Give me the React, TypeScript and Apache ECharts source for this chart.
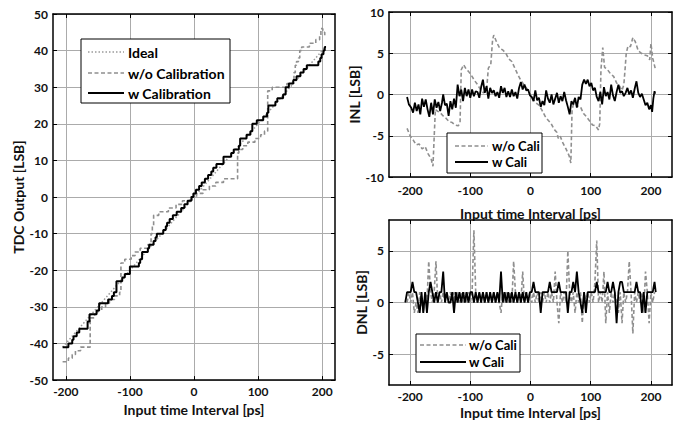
import React, { useEffect, useRef } from 'react';
import * as echarts from 'echarts';

const FONT = 'Lato, "Open Sans", sans-serif';
const tickX = [-200, -100, 0, 100, 200];
const tickDnl = [-5, 0, 5];

// Left: TDC output (staircases)
const idealX = [-205, 205];
const idealY = [-41, 41];
const woCalX = [-205, -196, -190, -185, -177, -162, -155, -150, -144, -138, -132, -124, -116, -114, -108, -98, -92, -84, -72, -67, -65, -63, -55, -40, -28, -18, -6, 4, 14, 24, 34, 46, 68, 70, 76, 84, 95, 104, 110, 115, 122, 145, 154, 156, 158, 160, 163, 165, 168, 180, 190, 196, 198, 201, 204, 206];
const woCalY = [-45, -44, -43, -42, -41, -33, -32, -31, -30, -29, -28, -27, -26, -18, -17, -16, -15, -14, -13, -10, -8, -5, -4, -3, -2, -1, 0, 1, 2, 3, 4, 5, 12, 13, 14, 15, 16, 17, 18, 29, 30, 31, 32, 34, 36, 37, 38, 40, 41, 42, 43, 44, 46, 45, 44, 44];
const wCalX = [-205, -196, -190, -188, -183, -179, -166, -163, -152, -148, -134, -128, -125, -121, -112, -108, -100, -86, -84, -81, -72, -70, -63, -60, -58, -48, -44, -42, -38, -33, -27, -20, -15, -10, -4, -1, 3, 8, 12, 17, 22, 27, 30, 35, 46, 58, 62, 70, 72, 82, 88, 91, 98, 108, 114, 116, 127, 130, 139, 143, 148, 155, 160, 166, 171, 176, 194, 197, 199, 202, 204, 206];
const wCalY = [-41, -40, -39, -38, -37, -36, -34, -32, -31, -29, -28, -27, -26, -23, -22, -21, -19, -18, -17, -15, -14, -13, -12, -11, -10, -9, -8, -7, -6, -5, -4, -3, -2, -1, 0, 1, 2, 3, 4, 5, 6, 7, 8, 9, 11, 12, 13, 14, 16, 17, 18, 20, 21, 22, 23, 25, 26, 27, 28, 30, 31, 32, 33, 34, 35, 36, 37, 38, 39, 40, 41, 41];

// Top right: INL
const inlWoX = [-205, -200, -195, -190, -185, -180, -175, -170, -165, -162, -160, -158, -155, -150, -145, -140, -135, -130, -125, -120, -117, -115, -111, -107, -103, -98, -93, -88, -83, -78, -73, -70, -66, -63, -61, -56, -51, -46, -41, -36, -31, -26, -21, -16, -11, -6, -1, 4, 9, 14, 19, 24, 29, 34, 39, 44, 46, 49, 54, 59, 64, 67, 69, 73, 78, 83, 88, 93, 98, 103, 108, 113, 115, 117, 120, 123, 128, 133, 138, 143, 148, 152, 155, 157, 159, 162, 166, 170, 174, 179, 184, 189, 194, 198, 200, 203, 207];
const inlWoY = [-4.1, -5.0, -5.5, -6.1, -6.0, -6.6, -6.3, -7.2, -7.8, -8.7, -5.2, -1.8, -2.0, -2.2, -2.6, -2.9, -3.3, -3.4, -3.7, -3.8, -3.4, 3.0, 3.6, 3.1, 2.8, 2.3, 1.7, 1.2, 0.6, 0.2, 0.5, 3.2, 3.6, 6.6, 7.2, 6.3, 5.6, 5.4, 5.0, 4.3, 4.0, 3.2, 2.4, 1.7, 1.2, 0.7, 0.1, -0.5, -1.0, -1.3, -1.9, -2.6, -3.1, -3.5, -4.2, -4.6, -5.3, -5.0, -5.9, -6.6, -7.4, -8.3, -1.9, -0.6, -1.4, -1.5, -2.3, -2.7, -3.2, -3.7, -3.8, -4.3, -3.5, 3.0, 5.7, 3.3, 3.0, 2.5, 2.2, 1.4, 1.0, 0.5, 1.2, 3.0, 5.0, 5.9, 5.8, 6.9, 6.4, 5.3, 5.0, 4.8, 4.7, 4.2, 6.2, 4.4, 3.2];
const inlWX = [-205, -202, -198, -195, -192, -189, -186, -183, -180, -177, -174, -171, -168, -165, -162, -159, -156, -153, -150, -147, -145, -142, -139, -136, -133, -130, -127, -124, -121, -118, -115, -112, -109, -106, -103, -100, -97, -94, -91, -88, -85, -82, -79, -76, -73, -70, -67, -64, -61, -58, -55, -52, -49, -46, -43, -40, -37, -34, -31, -28, -25, -22, -19, -16, -13, -10, -7, -4, -1, 2, 5, 8, 11, 14, 17, 20, 23, 26, 29, 32, 35, 38, 41, 44, 47, 50, 53, 56, 59, 62, 65, 68, 71, 74, 77, 80, 83, 86, 89, 92, 95, 98, 101, 104, 107, 110, 113, 116, 119, 122, 125, 128, 131, 134, 137, 140, 143, 146, 149, 152, 155, 158, 161, 164, 167, 170, 173, 176, 179, 182, 185, 188, 191, 194, 197, 200, 202, 204, 206, 207];
const inlWY = [-0.3, -1.2, -1.6, -2.2, -1.0, -2.0, -1.2, -2.4, -0.5, -1.5, -0.6, -1.8, -2.7, -1.0, -2.4, -0.6, -1.6, -0.9, -2.0, -1.0, 0.0, -1.3, -1.1, -2.6, -0.8, -1.8, -0.5, -1.6, 1.2, -0.2, 0.6, -0.8, 0.8, -0.2, 0.6, -0.4, 0.6, -0.2, 0.4, 0.3, -0.4, 0.9, 1.8, 0.2, 1.0, -0.5, 0.8, 0.2, 0.5, -0.2, 0.3, -0.4, 1.0, 0.2, 0.8, -0.3, 0.4, -0.3, 0.6, -0.2, 0.3, -0.5, 0.8, 1.5, 0.6, 1.2, 0.5, 0.6, -0.1, -0.3, -0.8, 0.5, -0.7, -0.4, -1.5, -0.8, -1.3, 0.5, -0.5, -1.0, 0.0, -1.2, -0.5, 0.2, -1.0, -0.2, -0.8, 0.3, -0.7, -1.5, -2.4, -0.8, -1.2, -0.4, -1.6, -0.3, -0.6, 1.2, 1.8, 1.3, 1.8, 1.0, 1.4, 0.5, 0.8, -0.3, -0.8, 0.3, -1.2, 0.9, -0.2, 0.3, -0.6, 1.2, -0.1, -0.8, 0.3, 1.2, 0.2, 0.4, -0.2, 0.2, 0.8, 0.0, 0.5, -0.4, 0.7, 1.6, 0.2, -0.3, 0.1, -0.6, -1.3, -1.0, -1.8, -1.3, -2.1, -0.5, 0.4, 0.1];

// Bottom right: DNL
const dnlWoX = [-205, -202, -199, -196, -193, -190, -187, -184, -181, -178, -175, -172, -169, -166, -163, -160, -157, -154, -151, -148, -145, -142, -139, -136, -133, -130, -127, -124, -121, -118, -115, -112, -109, -106, -103, -100, -97, -94, -91, -88, -85, -82, -79, -76, -73, -70, -67, -64, -61, -58, -55, -52, -49, -46, -43, -40, -37, -34, -31, -28, -25, -22, -19, -16, -13, -10, -7, -4, -1, 2, 5, 8, 11, 14, 17, 20, 23, 26, 29, 32, 35, 38, 41, 44, 47, 50, 53, 56, 59, 62, 65, 68, 71, 74, 77, 80, 83, 86, 89, 92, 95, 98, 101, 104, 107, 110, 113, 116, 119, 122, 125, 128, 131, 134, 137, 140, 143, 146, 149, 152, 155, 158, 161, 164, 167, 170, 173, 176, 179, 182, 185, 188, 191, 194, 197, 200, 203, 206];
const dnlWoY = [0, 1, 0, 1, -1, 0, -1, 1, 0, -1, 1, 0, 4, 1, 0, 1, 4, 0, 1, 0, 1, 0, 1, 0, 1, 0, 1, 0, 1, 0, 1, 0, 1, 0, 1, 0, 1, 7, 1, 0, 1, 0, 1, 0, 1, 0, 1, 0, 1, 0, 1, 0, -1, 1, 0, 1, 0, 1, 0, 4, 1, 0, 1, 0, 3, 0, 1, 0, 1, 0, 1, 0, 1, 0, 1, 0, 1, 0, 1, 0, 1, 0, 3, 0, -2, 1, 0, 1, 0, 5, 1, 0, 1, -1, 1, 0, 1, -2, 1, 0, 1, 0, 1, 0, 2, 6, 0, 1, 0, 3, -2, 1, -1, 1, 0, 1, 0, -1, 1, -2, 1, 0, 1, 4, 1, -3, 1, 0, 1, 0, 1, -1, 3, 1, -2, 1, 0, 1];
const dnlWX = [-208, -205, -202, -199, -196, -193, -190, -187, -184, -181, -178, -175, -172, -169, -166, -163, -160, -157, -154, -151, -148, -145, -142, -139, -136, -133, -130, -127, -124, -121, -118, -115, -112, -109, -106, -103, -100, -97, -94, -91, -88, -85, -82, -79, -76, -73, -70, -67, -64, -61, -58, -55, -52, -49, -46, -43, -40, -37, -34, -31, -28, -25, -22, -19, -16, -13, -10, -7, -4, -1, 2, 5, 8, 11, 14, 17, 20, 23, 26, 29, 32, 35, 38, 41, 44, 47, 50, 53, 56, 59, 62, 65, 68, 71, 74, 77, 80, 83, 86, 89, 92, 95, 98, 101, 104, 107, 110, 113, 116, 119, 122, 125, 128, 131, 134, 137, 140, 143, 146, 149, 152, 155, 158, 161, 164, 167, 170, 173, 176, 179, 182, 185, 188, 191, 194, 197, 200, 203, 206, 208];
const dnlWY = [0, 1, 1, 1, 2, 1, 1, 0, -1, 1, -1, 1, -1, 1, 2, 1, 0, 1, 0, 1, 1, 3, 0, 1, 0, 0, 1, -1, 1, 0, 1, 0, 1, 0, 1, 0, 1, 1, 0, 1, 0, 1, 0, 1, 0, 1, 0, 1, 0, 1, 0, 1, 0, 3, 0, 1, 0, 1, 0, 1, 0, 1, 0, 1, 0, 1, 0, 1, 0, 1, 1, 2, 1, 1, 1, -1, 1, 1, 1, 1, 2, 1, 1, 1, 1, 2, 1, 1, 1, 1, -1, 1, 1, 2, 1, 3, 1, 0, -1, 1, -1, 1, 1, 1, 1, 1, 2, 1, 1, 1, 1, 1, 2, 1, 1, 2, 1, -2, 1, 2, 2, 1, 1, 1, 1, 1, 1, 1, 2, 1, 1, -1, 1, -1, 1, 1, 1, 1, 2, 1];

const pairs = (xs: number[], ys: number[]) => xs.map((x, i) => [x, ys[i]]);

const GRAY = '#8f8f8f';
const GRID = '#ababab';
const labelStyle = { color: '#111', fontFamily: FONT, fontWeight: 'bold' as const, fontSize: 12 };
const nameStyle = { color: '#111', fontFamily: FONT, fontWeight: 'bold' as const, fontSize: 14 };

function xPair(gridIndex: number, min: number, max: number, margin: number, nameGap: number) {
  const base = {
    type: 'value', gridIndex, min, max,
    axisLine: { show: true, onZero: false, lineStyle: { color: '#000', width: 1.5 } },
    axisTick: { show: true, inside: true, length: 4, customValues: tickX, lineStyle: { color: '#000', width: 1 } },
  };
  return [
    {
      ...base, position: 'bottom',
      axisLabel: { show: true, customValues: tickX, margin, ...labelStyle },
      splitLine: { show: true, lineStyle: { color: GRID, width: 1 } },
      name: 'Input time Interval [ps]', nameLocation: 'middle', nameGap, nameTextStyle: nameStyle,
    },
    { ...base, position: 'top', axisLabel: { show: false }, splitLine: { show: false } },
  ];
}

function yPair(gridIndex: number, min: number, max: number, ticks: number[], name: string, nameGap: number) {
  const base = {
    type: 'value', gridIndex, min, max,
    axisLine: { show: true, onZero: false, lineStyle: { color: '#000', width: 1.5 } },
    axisTick: { show: true, inside: true, length: 4, customValues: ticks, lineStyle: { color: '#000', width: 1 } },
  };
  return [
    {
      ...base, position: 'left',
      axisLabel: { show: true, customValues: ticks, margin: 5, ...labelStyle },
      splitLine: { show: true, lineStyle: { color: GRID, width: 1 } },
      name, nameLocation: 'middle', nameGap, nameTextStyle: nameStyle,
    },
    { ...base, position: 'right', axisLabel: { show: false }, splitLine: { show: false } },
  ];
}

const tdcTicks = [-50, -40, -30, -20, -10, 0, 10, 20, 30, 40, 50];
const inlTicks = [-10, -5, 0, 5, 10];

function legendBox(x: number, y: number, w: number, h: number, items: { label: string; color: string; dash: any; width: number; y: number }[], lx1: number, lx2: number, tx: number, fs: number) {
  const els: any[] = [
    { type: 'rect', z: 100, shape: { x, y, width: w, height: h }, style: { fill: '#fff', stroke: '#000', lineWidth: 1 } },
  ];
  items.forEach((it) => {
    els.push({ type: 'line', z: 101, shape: { x1: lx1, y1: it.y, x2: lx2, y2: it.y }, style: { stroke: it.color, lineWidth: it.width, lineDash: it.dash } });
    els.push({ type: 'text', z: 101, x: tx, y: it.y, style: { text: it.label, fill: '#000', fontFamily: FONT, fontWeight: 'bold', fontSize: fs, verticalAlign: 'middle', textVerticalAlign: 'middle' } });
  });
  return els;
}

export default function App() {
  const ref = useRef<HTMLDivElement>(null);
  useEffect(() => {
    const chart = echarts.init(ref.current!, null, { renderer: 'svg' });
    const option: any = {
      animation: false,
      backgroundColor: '#fff',
      grid: [
        { left: 53, top: 14, width: 282, height: 371 },
        { left: 389, top: 12, width: 283, height: 165 },
        { left: 389, top: 220, width: 283, height: 165 },
      ],
      xAxis: [
        ...xPair(0, -220, 220, 5, 20),
        ...xPair(1, -235, 235, 7, 29),
        ...xPair(2, -235, 235, 5, 20),
      ],
      yAxis: [
        ...yPair(0, -50, 50, tdcTicks, 'TDC Output [LSB]', 25),
        ...yPair(1, -10, 10, inlTicks, 'INL [LSB]', 28),
        ...yPair(2, -8, 8, tickDnl, 'DNL [LSB]', 17),
      ],
      series: [
        { type: 'line', xAxisIndex: 0, yAxisIndex: 0, data: pairs(idealX, idealY), showSymbol: false, lineStyle: { color: '#9a9a9a', width: 1.5, type: [1.5, 2] } },
        { type: 'line', xAxisIndex: 0, yAxisIndex: 0, step: 'end', data: pairs(woCalX, woCalY), showSymbol: false, lineStyle: { color: GRAY, width: 1.6, type: [4, 2.5] } },
        { type: 'line', xAxisIndex: 0, yAxisIndex: 0, step: 'end', data: pairs(wCalX, wCalY), showSymbol: false, lineStyle: { color: '#000', width: 2 } },
        { type: 'line', xAxisIndex: 2, yAxisIndex: 2, data: pairs(inlWoX, inlWoY), showSymbol: false, lineStyle: { color: GRAY, width: 1.6, type: [4, 2.5] } },
        { type: 'line', xAxisIndex: 2, yAxisIndex: 2, data: pairs(inlWX, inlWY), showSymbol: false, lineStyle: { color: '#000', width: 1.8 } },
        { type: 'line', xAxisIndex: 4, yAxisIndex: 4, data: pairs(dnlWoX, dnlWoY), showSymbol: false, lineStyle: { color: GRAY, width: 1.6, type: [4, 2.5] } },
        { type: 'line', xAxisIndex: 4, yAxisIndex: 4, data: pairs(dnlWX, dnlWY), showSymbol: false, lineStyle: { color: '#000', width: 1.8 } },
      ],
      graphic: [
        ...legendBox(81, 39, 149, 64, [
          { label: 'Ideal', color: '#9a9a9a', dash: [1.5, 2], width: 1.5, y: 52 },
          { label: 'w/o Calibration', color: GRAY, dash: [4, 2.5], width: 1.6, y: 73 },
          { label: 'w Calibration', color: '#000', dash: null, width: 2, y: 93 },
        ], 88, 124, 128, 14),
        ...legendBox(447, 133, 95, 40, [
          { label: 'w/o Cali', color: GRAY, dash: [4, 2.5], width: 1.6, y: 146 },
          { label: 'w Cali', color: '#000', dash: null, width: 2, y: 162 },
        ], 455, 488, 492, 13),
        ...legendBox(416, 334, 104, 38, [
          { label: 'w/o Cali', color: GRAY, dash: [4, 2.5], width: 1.6, y: 345 },
          { label: 'w Cali', color: '#000', dash: null, width: 2, y: 362 },
        ], 420, 466, 469, 13),
      ],
    };
    chart.setOption(option);
    return () => chart.dispose();
  }, []);
  return <div ref={ref} style={{ position: 'absolute', left: 0, top: 0, width: 678, height: 421, background: '#fff' }} />;
}
